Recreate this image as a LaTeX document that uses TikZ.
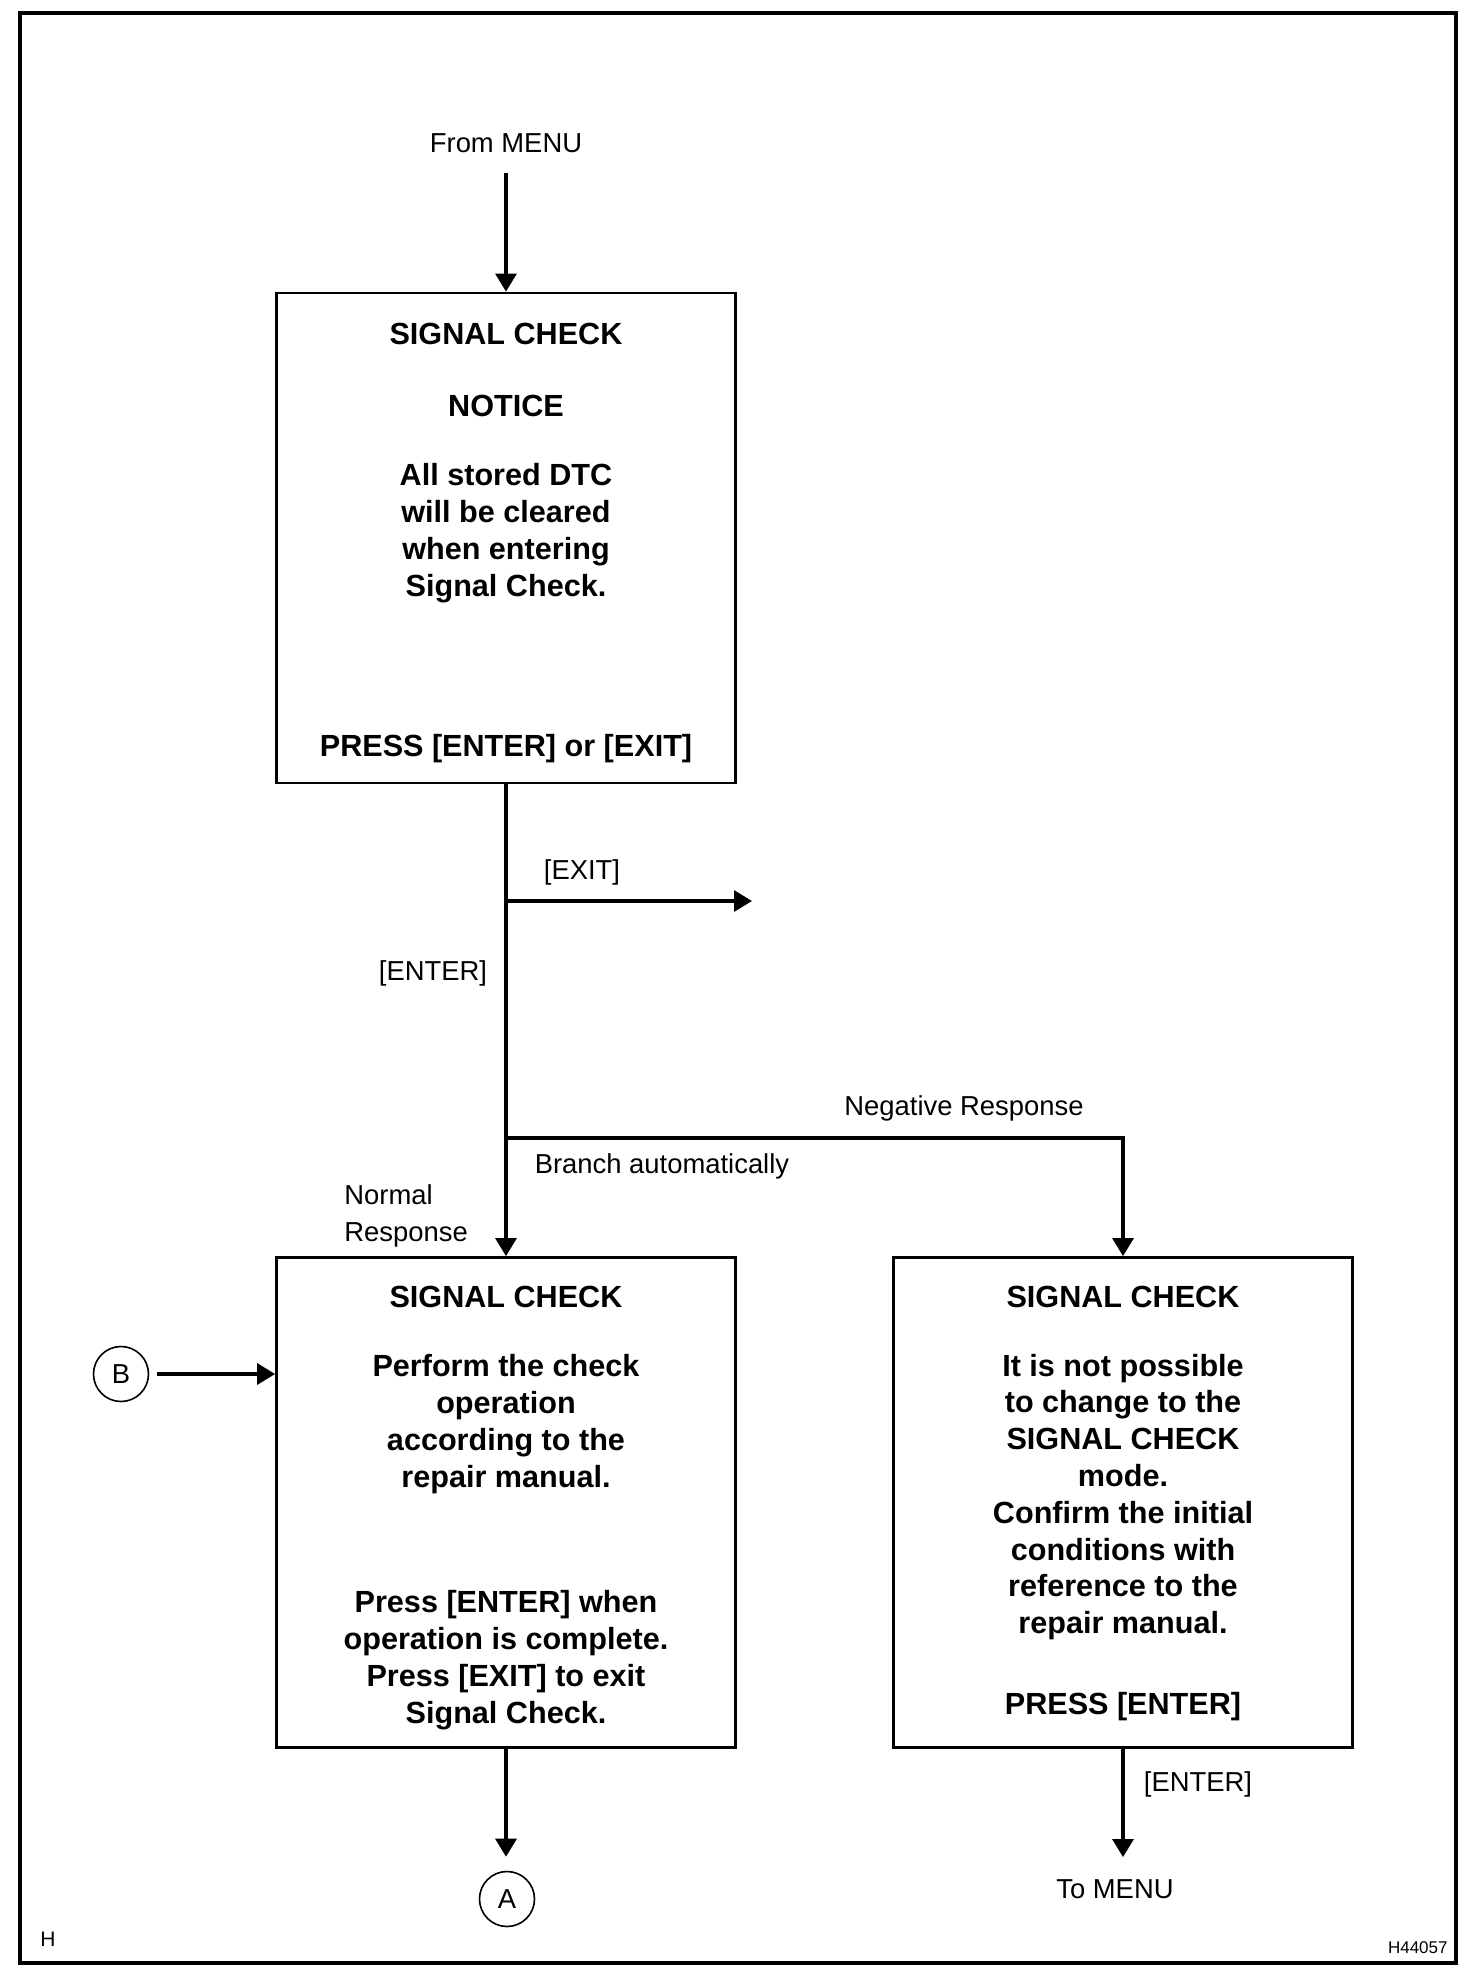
\documentclass[tikz,border=0pt]{standalone}
\usepackage{fontspec}
\setmainfont{Liberation Sans}
\usetikzlibrary{arrows.meta,shapes,positioning}

\tikzset{
  screen/.style={draw, line width=1.4pt, minimum width=229.5pt, minimum height=245pt, inner sep=0pt},
  boxtext/.style={font=\bfseries\fontsize{15.3}{18.4}\selectfont, align=center, inner sep=0pt},
  lbl/.style={font=\fontsize{13.7}{18.4}\selectfont, inner sep=0pt},
  conn/.style={draw, circle, line width=0.8pt, minimum size=27.5pt, inner sep=0pt, font=\fontsize{13.7}{16}\selectfont},
  flow/.style={line width=1.6pt, -{Triangle[length=9pt,width=10.5pt]}},
}

\begin{document}
\begin{tikzpicture}[x=0.5pt,y=-0.5pt]
        \useasboundingbox (0,0) rectangle (1472,1982);
        \draw[line width=2pt] (20,13) rectangle (1456,1963);

        \node[lbl] (from) at (506,143) {From MENU};

        \node[screen] (scr1) at (506,538) {};
        \node[boxtext] (t1a) at (506,334) {SIGNAL CHECK};
        \node[boxtext] (t1b) at (506,406) {NOTICE};
        \node[boxtext] (t1c) at (506,533) {All stored DTC\\will be cleared\\when entering\\Signal Check.};
        \node[boxtext] (t1d) at (506,749) {PRESS [ENTER] or [EXIT]};

        \node[lbl] (exitlbl) at (582,872) {[EXIT]};
        \node[lbl] (enterlbl) at (433,973) {[ENTER]};
        \node[lbl] (neglbl) at (964,1108) {Negative Response};
        \node[lbl] (branchlbl) at (662,1166) {Branch automatically};
        \node[lbl, align=left, anchor=west] (normlbl) at (344,1216) {Normal\\Response};

        \node[screen] (scr2) at (506,1502.5) {};
        \node[boxtext] (t2a) at (506,1297) {SIGNAL CHECK};
        \node[boxtext] (t2b) at (506,1424) {Perform the check\\operation\\according to the\\repair manual.};
        \node[boxtext] (t2c) at (506,1660) {Press [ENTER] when\\operation is complete.\\Press [EXIT] to exit\\Signal Check.};

        \node[screen] (scr3) at (1123,1502.5) {};
        \node[boxtext] (t3a) at (1123,1297) {SIGNAL CHECK};
        \node[boxtext] (t3b) at (1123,1497) {It is not possible\\to change to the\\SIGNAL CHECK\\mode.\\Confirm the initial\\conditions with\\reference to the\\repair manual.};
        \node[boxtext] (t3c) at (1123,1707) {PRESS [ENTER]};

        \node[conn] (cB) at (121,1374) {B};
        \node[conn] (cA) at (507,1899) {A};
        \node[lbl] (enterlbl2) at (1198,1784) {[ENTER]};
        \node[lbl] (tomenu) at (1115,1889) {To MENU};

        \node[inner sep=0pt, font=\fontsize{10.5}{13}\selectfont] (hmark) at (48,1939) {H};
        \node[inner sep=0pt, anchor=east, font=\fontsize{8.5}{10}\selectfont] (figid) at (1448,1948) {H44057};

        \coordinate (exitfork) at (506,901);
        \coordinate (exitend) at (752,901);
        \coordinate (autofork) at (506,1138);
        \coordinate (negturn) at (1123,1138);

        \draw[flow] ([yshift=-10pt]from.south) -- (scr1.north);
        \draw[flow] (scr1.south) -- (scr2.north);
        \draw[flow] (exitfork) -- (exitend);
        \draw[flow] (autofork) -- (negturn) -- (scr3.north);
        \draw[flow] ([xshift=4pt]cB.east) -- (cB.east -| scr2.west);
        \draw[flow, shorten >=7pt] (scr2.south) -- (scr2.south |- cA.north);
        \draw[flow, shorten >=11pt] (scr3.south) -- (scr3.south |- tomenu.north);
    \end{tikzpicture}
\end{document}
